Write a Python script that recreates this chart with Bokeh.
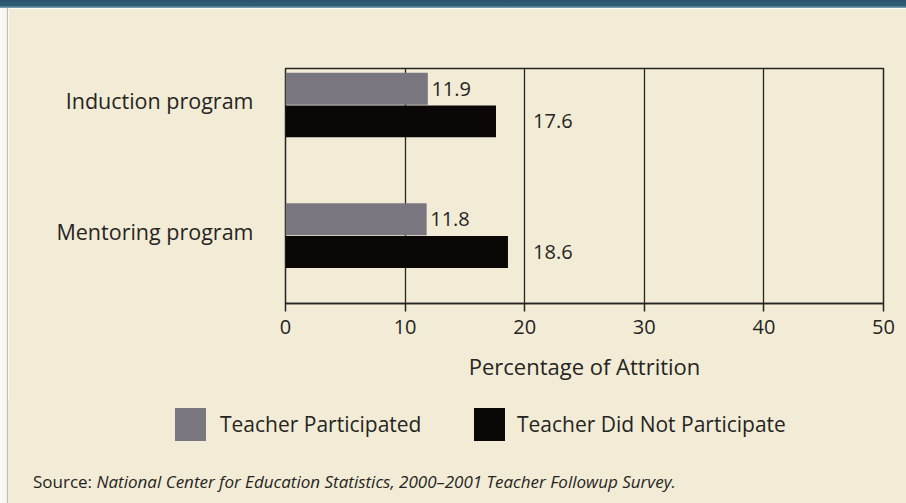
from bokeh.plotting import figure
from bokeh.models import (Range1d, FixedTicker, Div, ColumnDataSource,
                          CustomJSTickFormatter)
from bokeh.layouts import column, row
from bokeh.core.properties import value
from bokeh.embed import file_html
from bokeh.resources import INLINE

# ---- data ----
categories = ["Induction program", "Mentoring program"]
participated = [11.9, 11.8]
did_not_participate = [17.6, 18.6]
series_names = ["Teacher Participated", "Teacher Did Not Participate"]
x_ticks = [0, 10, 20, 30, 40, 50]
x_title = "Percentage of Attrition"
source_lead = "Source:"
source_text = "National Center for Education Statistics, 2000\u20132001 Teacher Followup Survey."

FONT = "Open Sans"
BG = "#f2ecd6"
GRAY = "#7a7680"
BLACK = "#0b0707"
INK = "#262422"
series_colors = [GRAY, BLACK]

n = len(categories)
pos = [n - 1 - i for i in range(n)]   # first category at top
off = 0.125
hgt = 0.245
label_lift = 0.035                    # category names sit a little above the pair centre

src_p = ColumnDataSource(dict(
    y=[p + off for p in pos], v=participated,
    lx=[v + 0.3 for v in participated],
    lab=[f"{v:.1f}" for v in participated]))
src_d = ColumnDataSource(dict(
    y=[p - off for p in pos], v=did_not_participate,
    lx=[max(v, 20) + 0.7 for v in did_not_participate],
    lab=[f"{v:.1f}" for v in did_not_participate]))

W = 898  # width of the cream panel (an 8px white strip sits to its left)

# ---------- main chart ----------
p = figure(width=W, height=392, output_backend="svg", toolbar_location=None,
           x_range=Range1d(0, 50), y_range=Range1d(-0.52, 1.28),
           min_border_left=277, min_border_right=23, min_border_top=60,
           min_border_bottom=97)
p.background_fill_color = BG
p.border_fill_color = BG
p.outline_line_color = INK
p.outline_line_width = 1.5

p.hbar(y="y", right="v", left=0, height=hgt, source=src_p,
       fill_color=series_colors[0], line_color=None)
p.hbar(y="y", right="v", left=0, height=hgt, source=src_d,
       fill_color=series_colors[1], line_color=None)

for s in (src_p, src_d):
    p.text(x="lx", y="y", text="lab", source=s, text_font=value(FONT),
           text_font_size="20px", text_color=INK, text_baseline="middle",
           text_align="left")

xa = p.xaxis[0]
xa.ticker = FixedTicker(ticks=x_ticks)
xa.minor_tick_line_color = None
xa.major_tick_out = 8
xa.major_tick_in = 0
xa.major_tick_line_color = INK
xa.major_tick_line_width = 1.5
xa.axis_line_color = INK
xa.axis_line_width = 1.5
xa.major_label_text_font = FONT
xa.major_label_text_font_size = "20px"
xa.major_label_text_color = INK
xa.major_label_standoff = 8
xa.axis_label = x_title
xa.axis_label_text_font = FONT
xa.axis_label_text_font_size = "22px"
xa.axis_label_text_font_style = "normal"
xa.axis_label_text_color = INK
xa.axis_label_standoff = 14

ya = p.yaxis[0]
ya.ticker = FixedTicker(ticks=[pp + label_lift for pp in pos])
ya.formatter = CustomJSTickFormatter(args=dict(cats=list(reversed(categories))),
                                     code="return cats[Math.round(tick)];")
ya.axis_line_color = None
ya.major_tick_line_color = None
ya.major_tick_out = 0
ya.major_tick_in = 0
ya.minor_tick_line_color = None
ya.major_label_standoff = 32
ya.major_label_text_font = FONT
ya.major_label_text_font_size = "21.5px"
ya.major_label_text_color = INK

p.ygrid.grid_line_color = None
p.xgrid.ticker = FixedTicker(ticks=x_ticks)
p.xgrid.grid_line_color = INK
p.xgrid.grid_line_width = 1.3
p.xgrid.grid_line_alpha = 1.0

# ---------- legend strip ----------
sw_left = [167, 466]
tx_left = [212, 509]
items = "".join(
    f'<span style="position:absolute;left:{sl}px;top:8px;width:31px;height:33px;'
    f'background:{c}"></span>'
    f'<span style="position:absolute;left:{tl}px;top:8px;height:33px;line-height:33px;'
    f'white-space:nowrap">{name}</span>'
    for sl, tl, c, name in zip(sw_left, tx_left, series_colors, series_names))
legend_html = (f'<div style="position:relative;width:{W}px;height:55px;'
               f'font-family:\'Open Sans\';font-size:21px;color:{INK}">{items}</div>')
legend_div = Div(text=legend_html, width=W, height=55, margin=0,
                 styles={"background-color": BG})

src_html = (f'<div style="font-family:\'Open Sans\';font-size:17px;color:{INK};'
            f'padding:15px 0 0 25px;white-space:nowrap">{source_lead} '
            f'<i>{source_text}</i></div>')
src_div = Div(text=src_html, width=W, height=48, margin=0,
              styles={"background-color": BG})

band = Div(text="", width=906, height=8, margin=0,
           styles={"background": "linear-gradient(to bottom, #2a546d 0%, #2e5c76 70%, #86a9b9 100%)"})
strip = Div(text="", width=8, height=495, margin=0,
            styles={"background": "linear-gradient(to right, #fbfaf7 0%, #f6f4ef 80%, #a9a59b 100%)"})

layout = column(band, row(strip, column(p, legend_div, src_div, spacing=0), spacing=0),
                spacing=0)
open("out.html", "w").write(file_html(layout, INLINE))
